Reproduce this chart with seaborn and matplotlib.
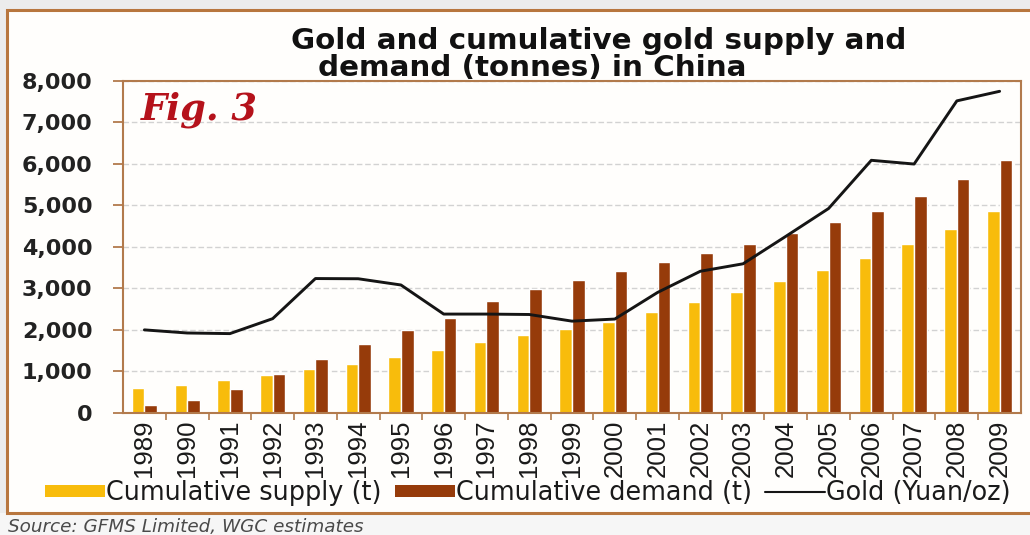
import numpy as np
import pandas as pd
import matplotlib
matplotlib.use("Agg")
import matplotlib.pyplot as plt
from matplotlib.patches import Rectangle, Patch
from matplotlib.lines import Line2D
from matplotlib.ticker import FuncFormatter, FixedLocator
import seaborn as sns

# Data: cumulative gold supply/demand in China (tonnes) and gold price (Yuan/oz)
years = [str(y) for y in range(1989, 2010)]
cum_supply = [590, 680, 790, 910, 1050, 1180, 1340, 1520, 1700, 1880, 2030, 2180,
              2440, 2670, 2910, 3170, 3450, 3740, 4060, 4430, 4860]
cum_demand = [190, 310, 570, 950, 1300, 1660, 2000, 2280, 2690, 2980, 3200, 3420,
              3640, 3860, 4070, 4320, 4600, 4870, 5230, 5640, 6090]
gold_price = [2000, 1925, 1910, 2270, 3235, 3230, 3080, 2380, 2380, 2370, 2210, 2260,
              2900, 3410, 3590, 4250, 4920, 6080, 5990, 7510, 7740]
series_names = ["Cumulative supply (t)", "Cumulative demand (t)"]
line_name = "Gold (Yuan/oz)"
y_ticks = [0, 1000, 2000, 3000, 4000, 5000, 6000, 7000, 8000]

YELLOW = "#f8bc0c"
BROWN = "#963b0a"
SPINE = "#b27a4c"
FRAME = "#b8763e"

df = pd.DataFrame({
    "year": years * 2,
    "value": cum_supply + cum_demand,
    "series": [series_names[0]] * len(years) + [series_names[1]] * len(years),
})

sns.set_theme(style="white")
plt.rcParams["font.family"] = ["Liberation Sans", "DejaVu Sans"]

W, H = 1030, 535
fig = plt.figure(figsize=(W / 100, H / 100), dpi=100, facecolor="#ececec")

# page background and bordered panel
fig.patches.append(Rectangle((0, 0), 1, 1 - 513 / H, transform=fig.transFigure,
                             facecolor="#f6f6f6", edgecolor="none", zorder=-3))
fig.patches.append(Rectangle((7 / W, 1 - 513 / H), 1.2, (513 - 10) / H,
                             transform=fig.transFigure, facecolor="#fffefc",
                             edgecolor=FRAME, linewidth=2.2, zorder=-2))

ax = fig.add_axes([123 / W, 1 - 413 / H, (1021 - 123) / W, (413 - 80.5) / H])
ax.set_facecolor("none")

sns.barplot(data=df, x="year", y="value", hue="series", palette=[YELLOW, BROWN],
            width=0.59, saturation=1, legend=False, ax=ax, zorder=2)
sns.lineplot(x=np.arange(len(years)), y=gold_price, color="#151515", linewidth=2.1,
             ax=ax, zorder=3)

ax.set_xlim(-0.5, len(years) - 0.5)
ax.set_ylim(0, 8000)
ax.set_xlabel("")
ax.set_ylabel("")

# grid
ax.set_yticks(y_ticks)
ax.yaxis.grid(True, color="#d2d2d2", linestyle=(0, (4, 2)), linewidth=1.0, zorder=0)
ax.set_axisbelow(True)
ax.yaxis.set_major_formatter(FuncFormatter(lambda v, p: f"{int(v):,}"))
ax.tick_params(axis="y", which="major", direction="out", length=7, width=1.3,
               color=SPINE, left=True, pad=15, labelcolor="#222222")
for lbl in ax.get_yticklabels():
    lbl.set_fontfamily("DejaVu Sans")
    lbl.set_fontweight("bold")
    lbl.set_fontsize(16)

# x axis: labels at categories, ticks between groups
ax.set_xticks(np.arange(len(years)))
ax.set_xticklabels(years, rotation=90, fontsize=18.5, color="#1a1a1a")
ax.tick_params(axis="x", which="major", length=0, pad=5)
ax.xaxis.set_minor_locator(FixedLocator(np.arange(0.5, len(years) - 0.5, 1.0)))
ax.tick_params(axis="x", which="minor", direction="out", length=5, width=1.2,
               color=SPINE, bottom=True)

for side in ["left", "bottom", "top", "right"]:
    ax.spines[side].set_visible(True)
    ax.spines[side].set_color(SPINE)
    ax.spines[side].set_linewidth(1.5)

# titles and annotations
title_kw = dict(ha="left", va="center", fontsize=21.2, fontweight="bold",
                family="DejaVu Sans", color="#111111")
fig.text(291 / W, 1 - 41 / H, "Gold and cumulative gold supply and", **title_kw)
fig.text(318 / W, 1 - 68 / H, "demand (tonnes) in China", **title_kw)
ax.text(141 / W, 1 - 110 / H, "Fig. 3", transform=fig.transFigure, ha="left",
        va="center", fontsize=26.5, fontweight="bold", fontstyle="italic",
        family="DejaVu Serif", color="#b5121b")
fig.text(8 / W, 1 - 527 / H, "Source: GFMS Limited, WGC estimates", ha="left",
         va="center", fontsize=13.2, fontstyle="italic", family="DejaVu Sans",
         color="#4a4a4a")

handles = [
    Patch(facecolor=YELLOW, edgecolor="none", label=series_names[0]),
    Patch(facecolor=BROWN, edgecolor="none", label=series_names[1]),
    Line2D([0], [0], color="#151515", linewidth=1.5, label=line_name),
]
leg = fig.legend(handles=handles, loc="center left", bbox_to_anchor=(45 / W, 1 - 493 / H),
                 ncol=3, frameon=False, handlelength=2.35, handleheight=0.33,
                 handletextpad=0.05, columnspacing=0.5, borderpad=0, borderaxespad=0,
                 prop={"family": "DejaVu Sans", "size": 18.4})
for t in leg.get_texts():
    t.set_color("#1a1a1a")

fig.savefig("out.png", dpi=100, facecolor=fig.get_facecolor())
